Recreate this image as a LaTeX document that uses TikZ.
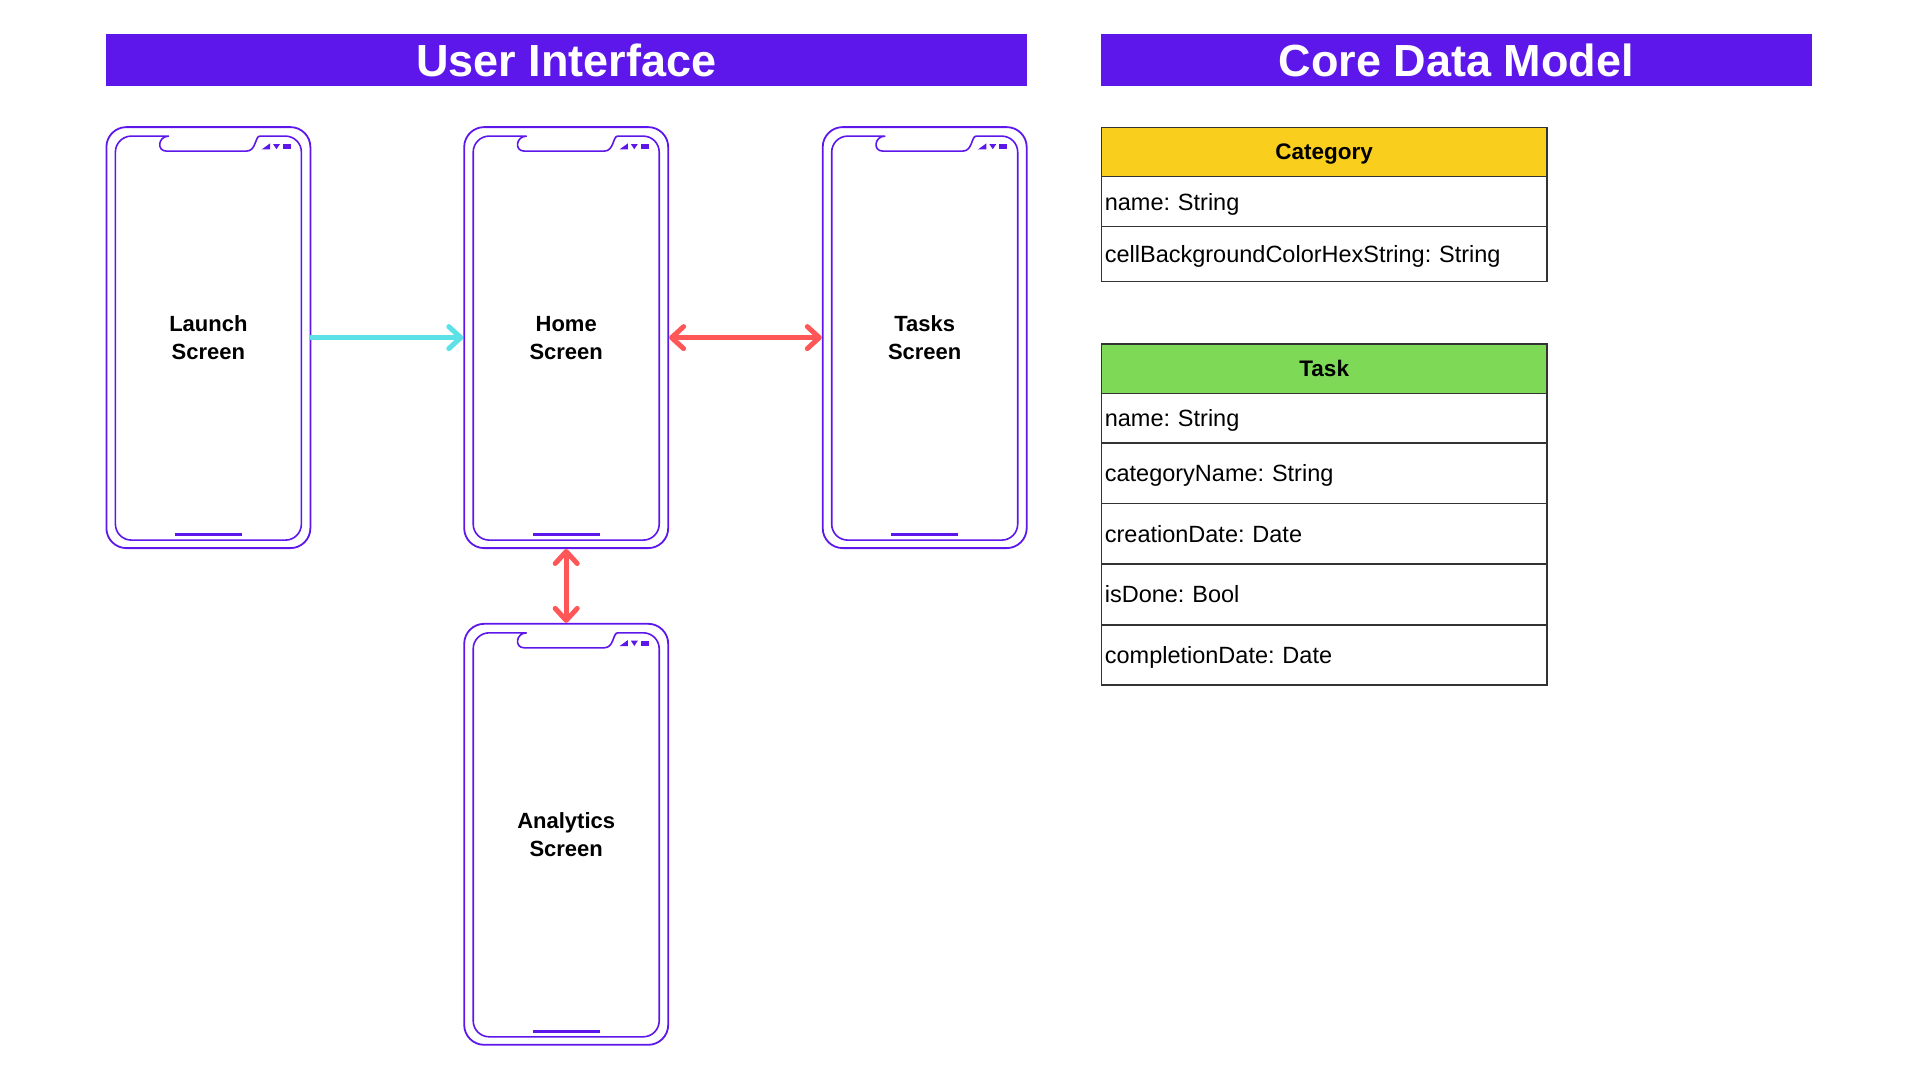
\documentclass[tikz,border=0pt]{standalone}
\usepackage{fontspec}
\setmainfont{Liberation Sans}
\frenchspacing
\usetikzlibrary{arrows.meta,positioning}
\definecolor{uipurple}{HTML}{5E17EB}
\definecolor{flowcyan}{HTML}{5CE1E6}
\definecolor{flowred}{HTML}{FF5757}
\definecolor{catyellow}{HTML}{F9CE1D}
\definecolor{taskgreen}{HTML}{7ED957}

\begin{document}
\begin{tikzpicture}[x=1pt,y=-1pt,
    title bar/.style={fill=uipurple,text=white,minimum height=52,inner sep=0,font=\fontsize{45}{54}\selectfont\bfseries},
    phone/.style={draw=uipurple,line width=1.8,rounded corners=20,minimum width=204,minimum height=421,inner sep=0,align=center,font=\fontsize{22}{28}\selectfont\bfseries},
    cls head/.style={draw=black!80,line width=1.5,outer sep=0,minimum width=445.7,minimum height=49.4,inner sep=0,text depth=0pt,font=\fontsize{22.5}{27}\selectfont\bfseries},
    cls row/.style={draw=black!80,line width=1.5,outer sep=0,text width=438.7,inner xsep=3.5,inner ysep=0,text depth=0pt,align=left,font=\fontsize{23.5}{28}\selectfont},
    flow/.style={line width=5,line cap=round},
    one way/.style={flow,draw=flowcyan,-{Straight Barb[length=12pt,width=22pt,round]}},
    two way/.style={flow,draw=flowred,{Straight Barb[length=12pt,width=22pt,round]}-{Straight Barb[length=12pt,width=22pt,round]}}]
    \useasboundingbox (0,0) rectangle (1920,1080);

    \node[title bar,minimum width=920.7] (uititle) at (566.3,60) {User Interface};
    \node[title bar,minimum width=711.6] (datatitle) at (1456.5,60) {Core Data Model};

    \node[phone] (launch) at (208.4,337.6) {Launch\\Screen};
    \node[phone] (home) at (566.2,337.6) {Home\\Screen};
    \node[phone] (tasks) at (924.7,337.6) {Tasks\\Screen};
    \node[phone] (analytics) at (566.2,834.3) {Analytics\\Screen};

    % screen, notch, status icons and home bar of every phone
    \foreach \p in {launch,home,tasks,analytics} {
        \begin{scope}[shift={(\p.center)},color=uipurple,line width=1.6]
            \draw (-50,202.5) [rounded corners=16] -- (-93,202.5) -- (-93,-201.5) -- (-55.5,-201.5)
                [sharp corners] .. controls (-50.5,-201.5) and (-52,-186.5) .. (-42,-186.5) -- (38,-186.5)
                .. controls (48,-186.5) and (46.5,-201.5) .. (51.5,-201.5)
                [rounded corners=16] -- (93,-201.5) -- (93,202.5) -- (-50,202.5);
            \fill (53.3,-188.2) -- (61.6,-188.2) -- (61.6,-194.2) -- cycle;
            \fill (64.6,-193.6) -- (71.6,-193.6) -- (68.1,-188.4) -- cycle;
            \fill (74.3,-193.2) rectangle (82.3,-188.8);
            \draw[line width=2.8] (-33.4,196.8) -- (33.3,196.8);
        \end{scope}
    }

    \draw[one way] (launch) -- (home);
    \draw[two way] (home.east) -- (tasks.west);
    \draw[two way] (home) -- (analytics);

    \node[cls head,fill=catyellow] (category) at (1324.2,152) {Category};
    \node[cls row,minimum height=50,below=0pt of category] (catname) {name: String};
    \node[cls row,minimum height=55,below=0pt of catname] (catcolor) {cellBackgroundColorHexString: String};

    \node[cls head,fill=taskgreen] (task) at (1324.2,368.7) {Task};
    \node[cls row,minimum height=49.4,below=0pt of task] (taskname) {name: String};
    \node[cls row,minimum height=60.6,below=0pt of taskname] (taskcat) {categoryName: String};
    \node[cls row,minimum height=60.7,below=0pt of taskcat] (taskcreated) {creationDate: Date};
    \node[cls row,minimum height=60.7,below=0pt of taskcreated] (taskdone) {isDone: Bool};
    \node[cls row,minimum height=60.3,below=0pt of taskdone] (taskcompleted) {completionDate: Date};
\end{tikzpicture}
\end{document}
